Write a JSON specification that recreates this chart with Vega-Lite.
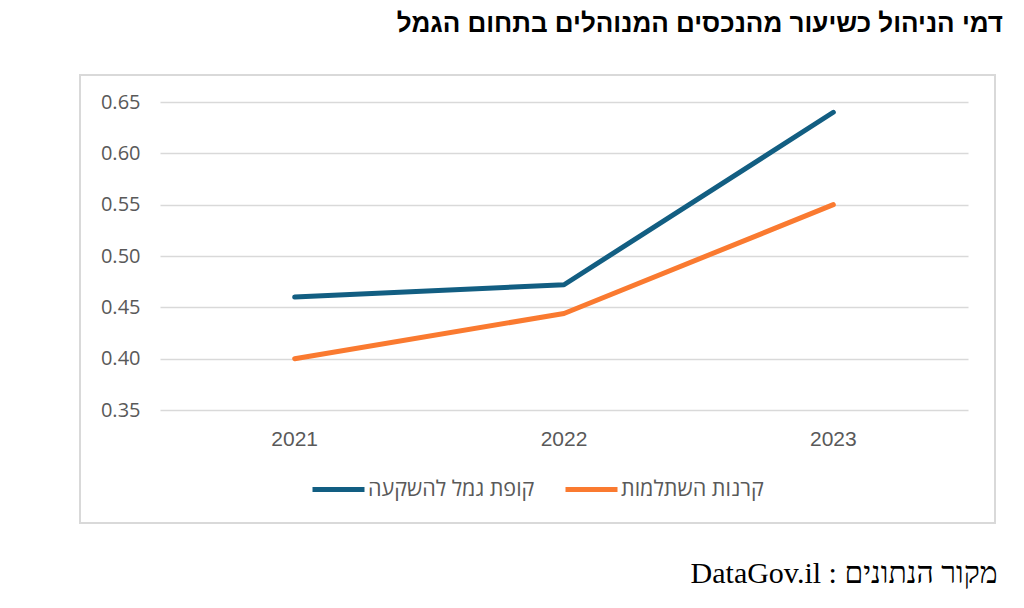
{
  "$schema": "https://vega.github.io/schema/vega-lite/v6.json",
  "width": 915,
  "height": 448,
  "autosize": {"type": "none"},
  "padding": {"left": 80, "top": 75, "right": 29, "bottom": 85},
  "background": "white",
  "config": {
    "view": {"stroke": "#d9d9d9", "strokeWidth": 2},
    "font": "Open Sans"
  },
  "title": {
    "text": "דמי הניהול כשיעור מהנכסים המנוהלים בתחום הגמל",
    "anchor": "end",
    "frame": "group",
    "baseline": "bottom",
    "offset": 12,
    "dx": 8,
    "font": "Liberation Sans",
    "fontSize": 26,
    "fontWeight": "bold",
    "color": "#000000"
  },
  "data": {
    "values": [
      {"year": "2021", "series": "קופת גמל להשקעה", "value": 0.46},
      {"year": "2022", "series": "קופת גמל להשקעה", "value": 0.472},
      {"year": "2023", "series": "קופת גמל להשקעה", "value": 0.64},
      {"year": "2021", "series": "קרנות השתלמות", "value": 0.40},
      {"year": "2022", "series": "קרנות השתלמות", "value": 0.444},
      {"year": "2023", "series": "קרנות השתלמות", "value": 0.55}
    ]
  },
  "mark": {"type": "line", "strokeWidth": 5, "strokeCap": "round", "strokeJoin": "round"},
  "encoding": {
    "x": {
      "field": "year",
      "type": "nominal",
      "scale": {"type": "band", "range": [80, 888], "paddingInner": 0, "paddingOuter": 0},
      "axis": {
        "orient": "bottom",
        "offset": -113,
        "domain": false,
        "ticks": false,
        "grid": false,
        "labelAngle": 0,
        "labelPadding": 18,
        "labelFont": "Liberation Sans",
        "labelFontSize": 21,
        "labelColor": "#595959",
        "title": "DataGov.il : מקור הנתונים",
        "titleX": 917,
        "titleY": 172,
        "titleAlign": "right",
        "titleBaseline": "alphabetic",
        "titleFont": "Liberation Serif",
        "titleFontSize": 30,
        "titleFontWeight": "normal",
        "titleColor": "#000000"
      }
    },
    "y": {
      "field": "value",
      "type": "quantitative",
      "scale": {"domain": [0.35, 0.65], "range": [335, 27], "zero": false, "nice": false},
      "axis": {
        "orient": "left",
        "offset": -80,
        "values": [0.35, 0.4, 0.45, 0.5, 0.55, 0.6, 0.65],
        "format": ".2f",
        "domain": false,
        "ticks": false,
        "grid": true,
        "gridColor": "#d9d9d9",
        "gridWidth": 1.5,
        "labelPadding": 20,
        "labelFontSize": 20,
        "labelColor": "#595959",
        "title": null
      }
    },
    "color": {
      "field": "series",
      "type": "nominal",
      "scale": {"domain": ["קופת גמל להשקעה", "קרנות השתלמות"], "range": ["#125e82", "#fa7a30"]},
      "legend": {
        "orient": "none",
        "legendX": 230,
        "legendY": 386,
        "direction": "horizontal",
        "title": null,
        "symbolType": "stroke",
        "symbolSize": 2704,
        "symbolStrokeWidth": 5,
        "labelFontSize": 21.5,
        "labelColor": "#595959",
        "labelOffset": 1,
        "labelLimit": 400,
        "columnPadding": 20
      }
    }
  }
}
